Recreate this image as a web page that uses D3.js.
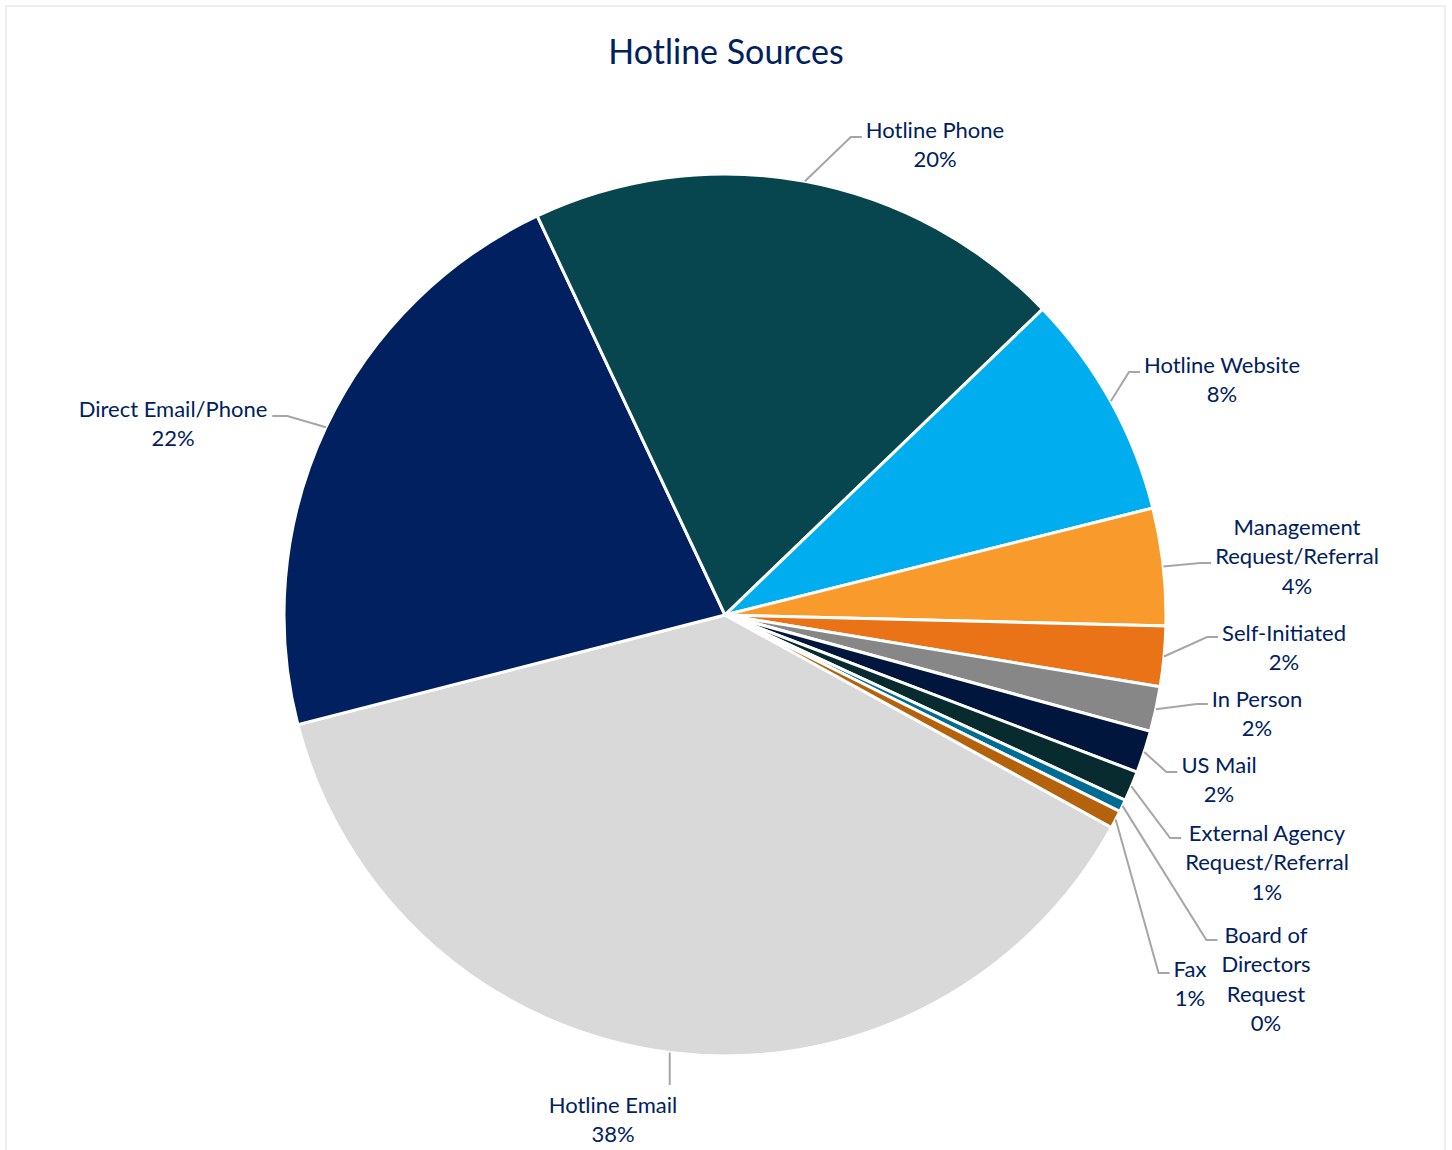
<!DOCTYPE html>
<meta charset="utf-8">
<style>

body {
  margin: 0;
  background: #fff;
}

.slice {
  stroke: #fff;
  stroke-width: 3px;
}

.leader {
  fill: none;
  stroke: #a6a6a6;
  stroke-width: 2px;
}

text {
  font-family: Lato, "Open Sans", sans-serif;
  fill: #002060;
}

.label {
  font-size: 22px;
}

.title {
  font-size: 34px;
}

</style>
<body>
<script src="https://cdn.jsdelivr.net/npm/d3@7"></script>
<script>

// sources, in the order the sheet lists them (clockwise)
var sources = ["Hotline Email", "Direct Email/Phone", "Hotline Phone", "Hotline Website",
               "Management Request/Referral", "Self-Initiated", "In Person", "US Mail",
               "External Agency Request/Referral", "Board of Directors Request", "Fax"];

// share of reports, percent
var shares = [38.0, 22.0, 19.8, 8.3, 4.3, 2.2, 1.65, 1.55, 1.1, 0.45, 0.65];

var colors = ["#d9d9d9", "#002060", "#07464f", "#00aeef", "#f89a2c", "#e97316",
              "#878787", "#00163d", "#082b30", "#006c94", "#b4620c"];

// how each label is broken into lines
var labelLines = [["Hotline Email"], ["Direct Email/Phone"], ["Hotline Phone"], ["Hotline Website"],
                  ["Management", "Request/Referral"], ["Self-Initiated"], ["In Person"], ["US Mail"],
                  ["External Agency", "Request/Referral"], ["Board of", "Directors", "Request"], ["Fax"]];

// label placement (like Excel's best fit): text centre x, first line y, leader attach y
var labelLayout = [
  {x: 613,  y: 1105, ay: 1085, side: "below"},
  {x: 173,  y: 409,  ay: 416,  side: "left"},
  {x: 935,  y: 130,  ay: 137,  side: "right"},
  {x: 1222, y: 365,  ay: 372,  side: "right"},
  {x: 1297, y: 527,  ay: 563,  side: "right"},
  {x: 1284, y: 633,  ay: 637,  side: "right"},
  {x: 1257, y: 699,  ay: 704,  side: "right"},
  {x: 1219, y: 765,  ay: 772,  side: "right"},
  {x: 1267, y: 833,  ay: 838,  side: "right"},
  {x: 1266, y: 935,  ay: 940,  side: "right"},
  {x: 1190, y: 969,  ay: 973,  side: "right"}
];

var width = 1452,
    height = 1150,
    cx = 725,
    cy = 615,
    radius = 441,
    lineHeight = 29.5;

var data = sources.map(function(d, i) {
  return {name: d, value: shares[i], color: colors[i], lines: labelLines[i], pos: labelLayout[i]};
});

var total = d3.sum(shares);

var svg = d3.select("body").append("svg")
    .attr("width", width)
    .attr("height", height);

svg.append("rect")
    .attr("x", 6)
    .attr("y", 6)
    .attr("width", 1439)
    .attr("height", 1160)
    .attr("fill", "#fff")
    .attr("stroke", "#efefef")
    .attr("stroke-width", 2);

svg.append("text")
    .attr("class", "title")
    .attr("x", 726)
    .attr("y", 52)
    .attr("dy", "0.36em")
    .attr("text-anchor", "middle")
    .text("Hotline Sources");

var pie = d3.pie()
    .sort(null)
    .value(function(d) { return d.value; })
    .startAngle(118.8 * Math.PI / 180)
    .endAngle(118.8 * Math.PI / 180 + 2 * Math.PI);

var arc = d3.arc()
    .innerRadius(0)
    .outerRadius(radius);

var edge = d3.arc()
    .innerRadius(radius)
    .outerRadius(radius);

var arcs = pie(data);

var g = svg.append("g")
    .attr("transform", "translate(" + cx + "," + cy + ")");

g.selectAll("path.slice")
    .data(arcs)
  .enter().append("path")
    .attr("class", "slice")
    .attr("fill", function(d) { return d.data.color; })
    .attr("d", arc);

// labels first, so leaders can be hooked to their measured edges
var labels = svg.append("g").selectAll("text")
    .data(arcs)
  .enter().append("text")
    .attr("class", "label")
    .attr("text-anchor", "middle")
    .attr("transform", function(d) { return "translate(" + d.data.pos.x + "," + d.data.pos.y + ")"; });

labels.each(function(d) {
  var t = d3.select(this);
  var rows = d.data.lines.concat([Math.round(d.data.value / total * 100) + "%"]);
  rows.forEach(function(r, i) {
    t.append("tspan")
        .attr("x", 0)
        .attr("y", i * lineHeight)
        .attr("dy", "0.36em")
        .text(r);
  });
  var w = 0;
  t.selectAll("tspan").each(function() { w = Math.max(w, this.getComputedTextLength()); });
  d.halfWidth = w / 2;
});

function leader(d) {
  var p = edge.centroid(d),
      sx = cx + p[0],
      sy = cy + p[1],
      pos = d.data.pos;
  if (pos.side === "below") {
    return "M" + sx + "," + sy + "L" + sx + "," + pos.ay;
  }
  var end, elbow;
  if (pos.side === "right") {
    end = pos.x - d.halfWidth - 4;
    elbow = end - 11;
  } else {
    end = pos.x + d.halfWidth + 5;
    elbow = end + 15;
  }
  return "M" + sx + "," + sy + "L" + elbow + "," + pos.ay + "L" + end + "," + pos.ay;
}

svg.insert("g", "g + g").selectAll("path")
    .data(arcs)
  .enter().append("path")
    .attr("class", "leader")
    .attr("d", leader);

</script>
